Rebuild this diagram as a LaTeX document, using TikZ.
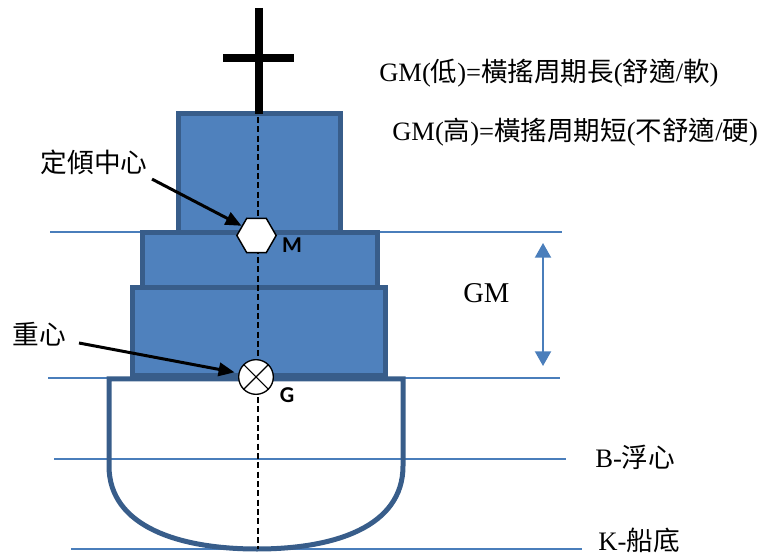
\documentclass[tikz,border=0pt]{standalone}
\usepackage{fontspec}
\setmainfont{Liberation Serif}
\newfontfamily\cjk{Noto Sans CJK TC}
\newfontfamily\markfont{Carlito}
\usetikzlibrary{arrows.meta,shapes.geometric}

\definecolor{deckfill}{HTML}{4F81BD}
\definecolor{deckedge}{HTML}{385D8A}
\definecolor{waterblue}{HTML}{4A7EBB}

\newcommand\zh[1]{{\cjk #1}}

\begin{document}
\begin{tikzpicture}[x=0.75pt, y=-0.75pt,
    deck/.style={fill=deckfill, draw=deckedge, line width=3.75pt},
    waterline/.style={draw=waterblue, line width=1.2pt},
    mast/.style={draw=black, line width=6pt},
    pointer/.style={-{Triangle[length=12pt,width=10pt]}, line width=2.25pt},
    gmarrow/.style={{Triangle[length=11pt,width=12pt]}-{Triangle[length=11pt,width=12pt]},
      draw=waterblue, line width=1.5pt},
    zhlabel/.style={font=\fontsize{20}{24}\selectfont\cjk},
    rulelabel/.style={anchor=base west, inner sep=0pt, font=\fontsize{19.9}{24}\selectfont},
    marklabel/.style={font=\fontsize{17}{20}\selectfont\markfont\bfseries}]
  \useasboundingbox (0,0) rectangle (770,555);

  % Reference lines (M, G, B, K)
  \draw[waterline] (50,232) -- (562,232);
  \draw[waterline] (48,378) -- (560,378);
  \draw[waterline] (54,459) -- (566,459);
  \draw[waterline] (71,549) -- (582,549);

  % Hull below the main deck
  \draw[draw=deckedge, line width=3.75pt]
    (109,379) -- (109,466) .. controls (109,527) and (180,549) .. (257,549)
    .. controls (334,549) and (403,527) .. (403,466) -- (403,379) -- cycle;

  % Superstructure, lowest tier first
  \draw[deck] (132.5,288) rectangle (385,376);
  \draw[deck] (142,233) rectangle (377.5,288);
  \draw[deck] (178,114) rectangle (340.5,233);

  % Mast
  \draw[mast] (259,8) -- (259,114);
  \draw[mast] (223,58) -- (294,58);

  % Centre line
  \coordinate (deckTop) at (258,117);
  \coordinate (keel) at (258,549);
  \draw[dashed, dash pattern=on 4.5pt off 2.5pt, line width=1.1pt] (deckTop) -- (keel);

  % Metacentre and centre of gravity
  \node[regular polygon, regular polygon sides=6, minimum size=29.5pt, inner sep=0pt,
    draw, fill=white, line width=1.1pt] (metacentre) at (256.5,235.5) {};
  \node[marklabel] (markM) at (292,245) {M};
  \node[circle, minimum size=26pt, inner sep=0pt, draw, fill=white, line width=1pt]
    (gravity) at (256,377) {};
  \draw[line width=0.8pt] (gravity.north west) -- (gravity.south east)
    (gravity.north east) -- (gravity.south west);
  \node[marklabel] (markG) at (287,395) {G};

  % Callouts
  \node[zhlabel] (lblMeta) at (94,162) {定傾中心};
  \draw[pointer] (lblMeta.south east) -- (metacentre.147);
  \node[zhlabel] (lblGrav) at (39,334) {重心};
  \coordinate (gravTail) at (79,343);
  \draw[pointer] (gravTail) -- ([xshift=-3pt]gravity.165);

  % GM distance
  \coordinate (gmTop) at (543,243);
  \coordinate (gmBot) at (543,366);
  \draw[gmarrow] (gmTop) -- (gmBot);
  \node[anchor=base west, inner sep=0pt, font=\fontsize{21.5}{26}\selectfont] (lblGM) at (463,303) {GM};

  % Stability notes
  \node[rulelabel] (ruleLow) at (379,82) {GM(\zh{低})=\zh{橫搖周期長}(\zh{舒適}/\zh{軟})};
  \node[rulelabel] (ruleHigh) at (392,141) {GM(\zh{高})=\zh{橫搖周期短}(\zh{不舒適}/\zh{硬})};

  % Right-hand labels
  \node[anchor=base west, inner sep=0pt, font=\fontsize{20}{24}\selectfont] (lblB) at (595,467) {B-\zh{浮心}};
  \node[anchor=base west, inner sep=0pt, font=\fontsize{20}{24}\selectfont] (lblK) at (598,550) {K-\zh{船底}};
\end{tikzpicture}
\end{document}
